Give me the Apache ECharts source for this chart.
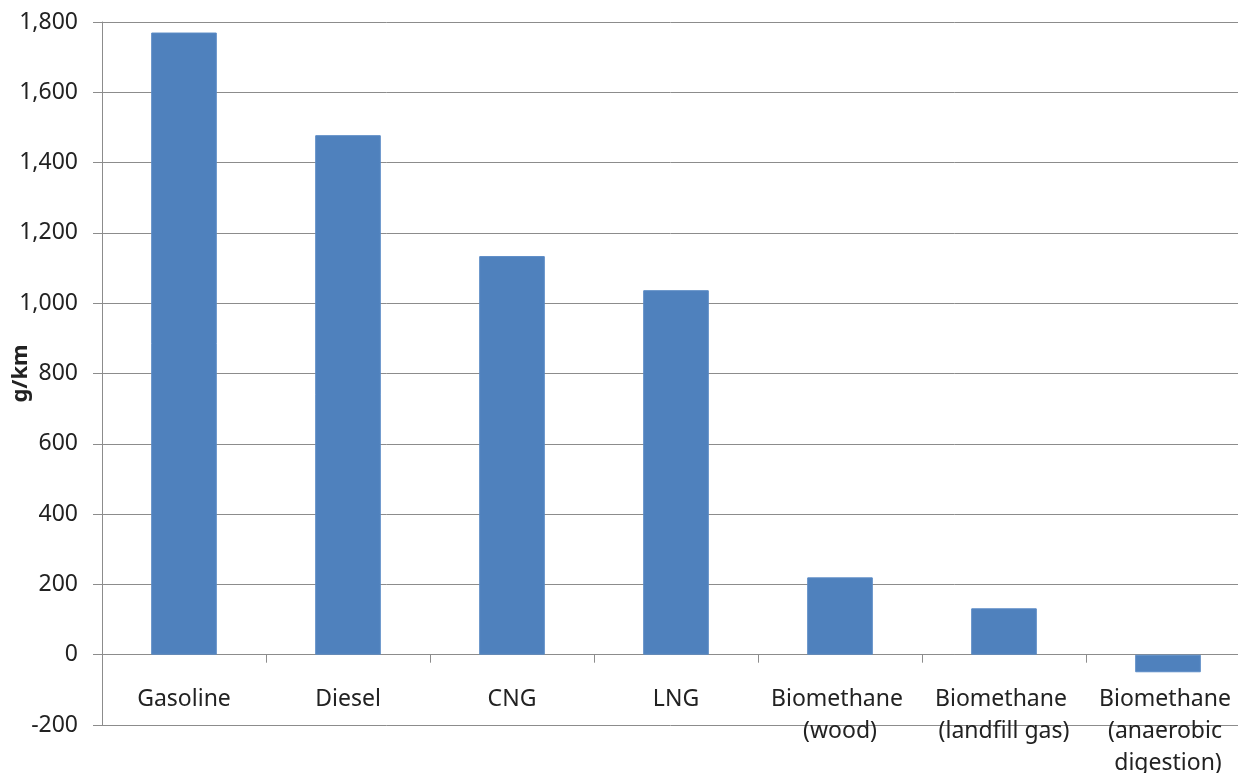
<!DOCTYPE html>
<html>
<head>
<meta charset="utf-8">
<script src="https://cdn.jsdelivr.net/npm/echarts@6/dist/echarts.min.js"></script>
<style>
  html, body { margin: 0; padding: 0; background: #fff; }
  #chart { width: 1238px; height: 773px; }
</style>
</head>
<body>
<div id="chart"></div>
<script>
const categories = [
  "Gasoline",
  "Diesel",
  "CNG",
  "LNG",
  "Biomethane (wood)",
  "Biomethane (landfill gas)",
  "Biomethane (anaerobic digestion)"
];
const values = [1770, 1478, 1134, 1037, 220, 132, -50];
const yMin = -200;
const yMax = 1800;
const yStep = 200;

const gray = "#8c8c8c";
const font = "Noto Sans";

const chart = echarts.init(document.getElementById("chart"));
chart.setOption({
  animation: false,
  grid: { left: 102, right: -12, top: 22, bottom: 48, containLabel: false, outerBoundsMode: "none" },
  xAxis: {
    type: "category",
    data: categories,
    axisLine: { onZero: true, lineStyle: { color: gray } },
    axisTick: { show: true, length: 8, lineStyle: { color: gray } },
    axisLabel: {
      interval: 0,
      margin: -42,
      width: 150,
      overflow: "break",
      lineHeight: 32,
      fontFamily: font,
      fontSize: 23,
      color: "#222"
    }
  },
  yAxis: {
    type: "value",
    min: yMin,
    max: yMax,
    interval: yStep,
    name: "g/km",
    nameLocation: "middle",
    nameGap: 70,
    nameMoveOverlap: false,
    nameTextStyle: { fontFamily: font, fontSize: 22, fontWeight: "bold", color: "#222" },
    axisLine: { show: true, lineStyle: { color: gray } },
    axisTick: { show: true, length: 9, lineStyle: { color: gray } },
    axisLabel: {
      margin: 24,
      fontFamily: font,
      fontSize: 23,
      color: "#222",
      formatter: v => v.toLocaleString("en-US")
    },
    splitLine: { lineStyle: { color: gray, width: 1 } }
  },
  series: [{
    type: "bar",
    data: values,
    barWidth: "40%",
    itemStyle: { color: "#4f81bd", borderColor: "#5b8bc6", borderWidth: 1 }
  }]
});
</script>
</body>
</html>
